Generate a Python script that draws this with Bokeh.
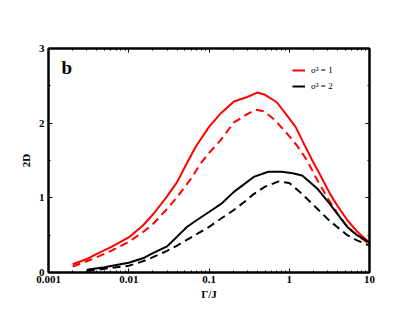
from bokeh.plotting import figure
from bokeh.models import LogAxis, LinearAxis, FixedTicker, Legend, LegendItem, Label, Range1d
from bokeh.embed import file_html
from bokeh.resources import INLINE

# data
red_solid_x = [0.002, 0.003, 0.004, 0.006, 0.01, 0.015, 0.0205, 0.030, 0.040, 0.051, 0.068, 0.1, 0.14, 0.204, 0.30, 0.40, 0.50, 0.70, 0.94, 1.2, 1.45, 1.94, 2.45, 3.2, 4.0, 5.3, 7.0, 10.0]
red_solid_y = [0.11, 0.18, 0.25, 0.34, 0.47, 0.63, 0.79, 1.02, 1.21, 1.43, 1.68, 1.95, 2.13, 2.29, 2.35, 2.41, 2.38, 2.28, 2.10, 1.95, 1.77, 1.50, 1.30, 1.06, 0.89, 0.70, 0.55, 0.40]

red_dash_x = [0.002, 0.003, 0.004, 0.006, 0.01, 0.015, 0.02, 0.03, 0.04, 0.06, 0.078, 0.1, 0.139, 0.204, 0.30, 0.38, 0.48, 0.65, 0.94, 1.25, 1.67, 2.2, 3.0, 4.0, 5.3, 7.0, 10.0]
red_dash_y = [0.08, 0.15, 0.205, 0.29, 0.41, 0.54, 0.65, 0.85, 1.01, 1.26, 1.455, 1.60, 1.77, 2.01, 2.12, 2.18, 2.16, 2.05, 1.86, 1.70, 1.50, 1.25, 1.00, 0.79, 0.61, 0.50, 0.38]

black_solid_x = [0.003, 0.005, 0.007, 0.01, 0.015, 0.02, 0.030, 0.04, 0.053, 0.07, 0.1, 0.146, 0.204, 0.28, 0.36, 0.55, 0.81, 1.1, 1.45, 2.25, 3.2, 4.0, 5.3, 7.0, 10.0]
black_solid_y = [0.036, 0.07, 0.10, 0.13, 0.19, 0.26, 0.35, 0.48, 0.61, 0.70, 0.81, 0.93, 1.08, 1.19, 1.28, 1.35, 1.35, 1.33, 1.30, 1.12, 0.92, 0.78, 0.61, 0.50, 0.40]

black_dash_x = [0.003, 0.005, 0.007, 0.01, 0.015, 0.02, 0.03, 0.04, 0.06, 0.1, 0.14, 0.2, 0.28, 0.36, 0.5, 0.74, 1.0, 1.45, 2.25, 3.2, 5.3, 7.0, 10.0]
black_dash_y = [0.02, 0.05, 0.07, 0.09, 0.15, 0.205, 0.29, 0.36, 0.47, 0.61, 0.72, 0.83, 0.95, 1.05, 1.15, 1.22, 1.20, 1.05, 0.85, 0.69, 0.50, 0.43, 0.36]

x_ticks = [0.001, 0.01, 0.1, 1, 10]
x_tick_labels = ["0.001", "0.01", "0.1", "1", "10"]
y_ticks = [0, 1, 2, 3]

FONT = "Liberation Serif"

p = figure(width=407, height=313, x_axis_type="log", output_backend="svg",
           toolbar_location=None, x_range=Range1d(0.001, 10), y_range=Range1d(0, 3),
           min_border_left=48, min_border_right=38, min_border_top=48, min_border_bottom=41)
p.grid.visible = False
p.outline_line_color = "black"
p.outline_line_width = 2
p.background_fill_color = "white"

minor = [m * d for d in [0.001, 0.01, 0.1, 1] for m in range(2, 10)]
xt = FixedTicker(ticks=x_ticks, minor_ticks=minor)
yt = FixedTicker(ticks=y_ticks, minor_ticks=[0.5, 1.5, 2.5])

def style(ax, labels=True):
    ax.axis_line_width = 2
    ax.axis_line_color = "black"
    ax.major_tick_in = 4
    ax.major_tick_out = 0
    ax.minor_tick_in = 2
    ax.minor_tick_out = 0
    ax.major_tick_line_width = 1
    ax.minor_tick_line_width = 1
    ax.major_tick_line_color = "black"
    ax.minor_tick_line_color = "black"
    ax.major_label_text_font = FONT
    ax.major_label_text_font_style = "bold"
    ax.major_label_text_font_size = "11px"
    ax.major_label_text_color = "black"
    ax.axis_label_text_font = FONT
    ax.axis_label_text_font_style = "bold"
    ax.axis_label_text_font_size = "11px"
    ax.axis_label_text_color = "black"
    if not labels:
        ax.major_label_text_color = None

p.xaxis.ticker = xt
p.yaxis.ticker = yt
style(p.xaxis[0])
style(p.yaxis[0])
p.xaxis[0].major_label_overrides = {t: l for t, l in zip(x_ticks, x_tick_labels)}
p.xaxis[0].major_label_standoff = 3
p.yaxis[0].major_label_standoff = 4
p.xaxis[0].axis_label = "Γ/J"
p.xaxis[0].axis_label_standoff = 2
p.yaxis[0].axis_label = "2D"
p.yaxis[0].axis_label_standoff = 4

top = LogAxis(ticker=xt)
style(top, labels=False)
p.add_layout(top, "above")
right = LinearAxis(ticker=yt)
style(right, labels=False)
p.add_layout(right, "right")

r1 = p.line(red_solid_x, red_solid_y, line_color="red", line_width=2)
p.line(red_dash_x, red_dash_y, line_color="red", line_width=2, line_dash="8 5")
r2 = p.line(black_solid_x, black_solid_y, line_color="black", line_width=2)
p.line(black_dash_x, black_dash_y, line_color="black", line_width=2, line_dash="8 5")

legend = Legend(items=[LegendItem(label="σ² = 1", renderers=[r1]),
                       LegendItem(label="σ² = 2", renderers=[r2])],
                location=(244, 180), padding=0, margin=0, spacing=4,
                glyph_width=13, glyph_height=12, label_height=12,
                label_standoff=6, label_text_color="black",
                label_text_font=FONT, label_text_font_size="9px",
                border_line_color=None, background_fill_alpha=0)
p.add_layout(legend, "center")

p.add_layout(Label(x=13, y=205, x_units="screen", y_units="screen", text="b",
                   text_font=FONT, text_font_style="bold", text_font_size="19px",
                   text_baseline="middle", text_color="black"))

open("out.html", "w").write(file_html(p, INLINE))
